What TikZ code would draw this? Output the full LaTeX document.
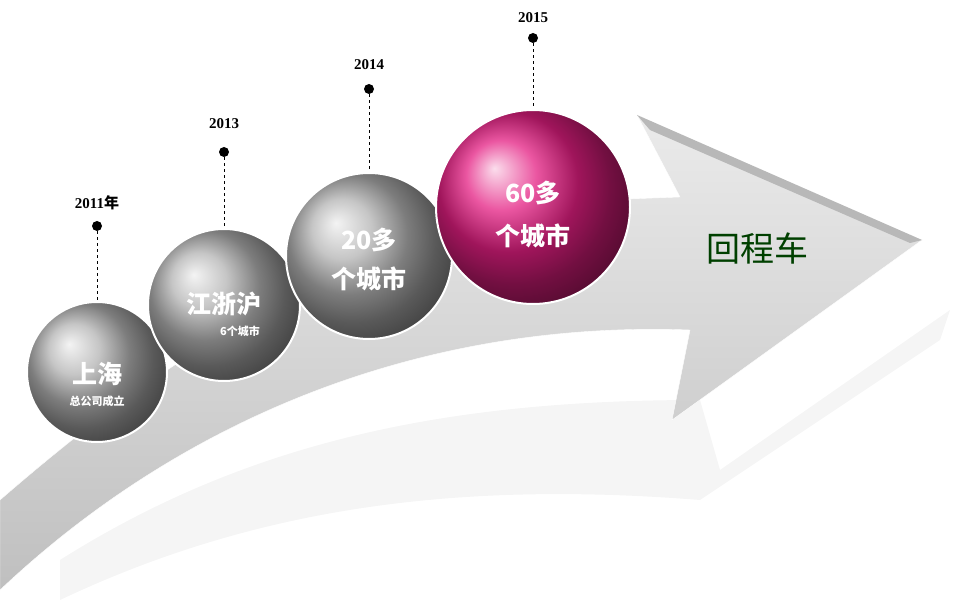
\documentclass[tikz,border=0pt]{standalone}
\usepackage{fontspec}
\setmainfont{Liberation Serif}
\newfontfamily\cjk{Noto Sans CJK SC}
\definecolor{pinkb}{RGB}{228,30,130}
\begin{document}
\begin{tikzpicture}[x=1pt,y=-1pt,
  yr/.style={font=\bfseries\fontsize{15}{16}\selectfont},
  dotn/.style={circle,fill=black,inner sep=0,minimum size=10pt},
  sph/.style={circle,draw=white,line width=2pt,inner sep=0},
  big/.style={text=white,font=\cjk\bfseries\fontsize{25}{27}\selectfont},
  small/.style={text=white,font=\cjk\bfseries\fontsize{11}{12}\selectfont}]
\useasboundingbox (0,0) rectangle (960,609);
% arrow shadow
\fill[black!4] (60,560) .. controls (250,440) and (450,400) .. (700,400) -- (720,470) -- (950,310) -- (940,340) -- (700,500) .. controls (450,480) and (250,510) .. (60,600) -- cycle;
% arrow
\shade[top color=black!8,bottom color=black!25,draw=white] (0,500) .. controls (150,370) and (330,240) .. (600,200) -- (680,197) -- (637,115) -- (922,240) -- (672,420) -- (690,330) .. controls (420,320) and (180,420) .. (0,590) -- cycle;
\fill[black!28] (637,115) -- (650,130) -- (910,243) -- (922,240) -- cycle;
\node[text=green!25!black,font=\cjk\fontsize{34}{36}\selectfont] (t) at (757,248) {回程车};
% spheres
\node[sph,minimum size=140pt,ball color=black!30] (s1) at (97,372) {};
\node[sph,minimum size=152pt,ball color=black!30] (s2) at (224,305) {};
\node[sph,minimum size=166pt,ball color=black!30] (s3) at (369,256) {};
\node[sph,minimum size=194pt,ball color=pinkb] (s4) at (533,207) {};
\node[big] (a1) at (97,374) {上海};
\node[small] (b1) at (97,401) {总公司成立};
\node[big] (a2) at (224,304) {江浙沪};
\node[small] (b2) at (240,331) {6个城市};
\node[big] (a3) at (369,240) {20多};
\node[big] (b3) at (369,279) {个城市};
\node[big] (a4) at (533,193) {60多};
\node[big] (b4) at (533,236) {个城市};
% dots and years
\foreach \i/\x/\y/\ty/\t in {1/97/226/203/2011{\cjk\bfseries 年},2/224/152/124/2013,3/369/89/65/2014,4/533/38/18/2015}{
  \node[dotn] (d\i) at (\x,\y) {};
  \node[yr] (y\i) at (\x,\ty) {\t};
  \draw[dashed,thin] (d\i) -- (s\i.north);
}
\end{tikzpicture}
\end{document}
